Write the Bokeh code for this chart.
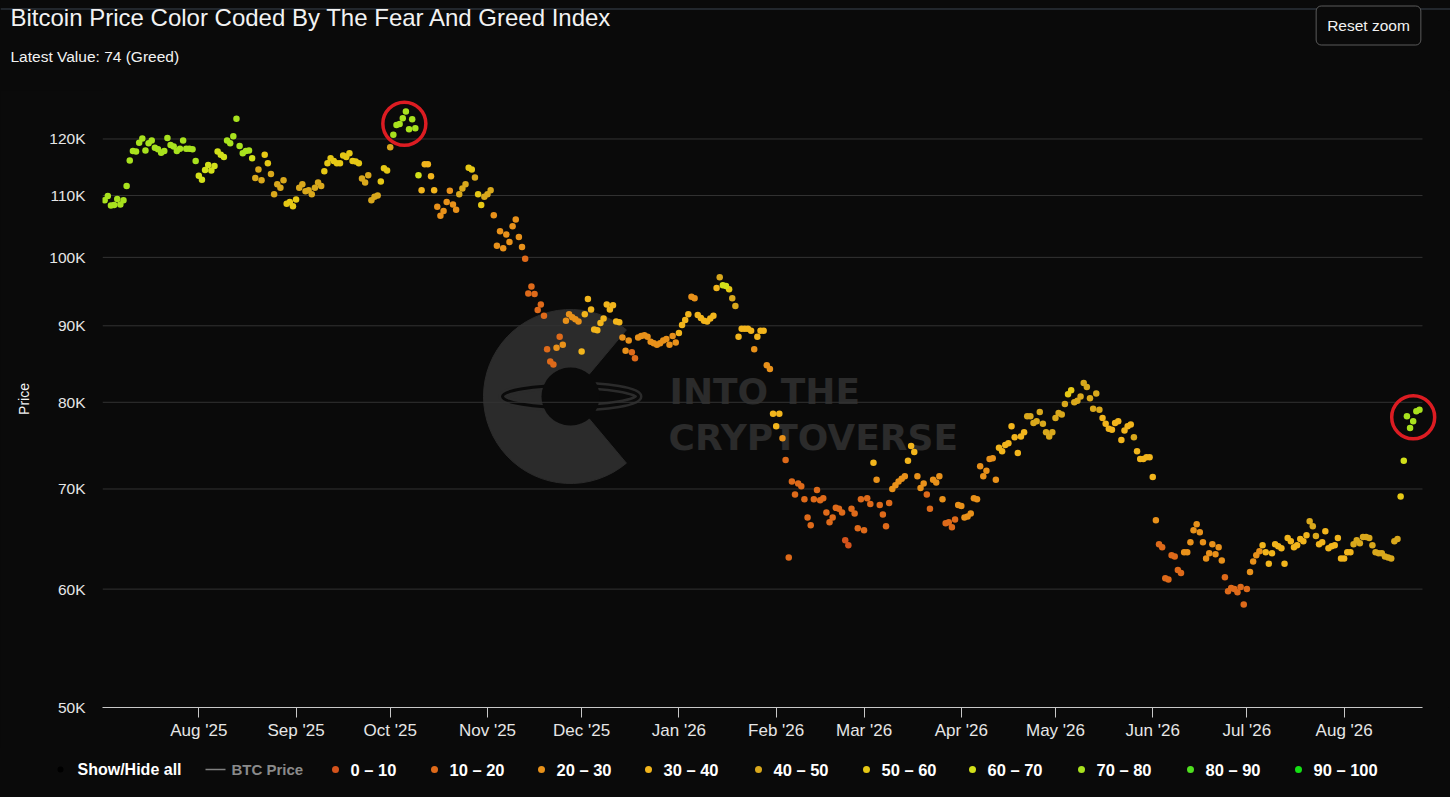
import math
import numpy as np
import pandas as pd
from bokeh.plotting import figure
from bokeh.layouts import column
from bokeh.models import ColumnDataSource, FixedTicker, Range1d, Label
from bokeh.embed import file_html
from bokeh.resources import INLINE

# ---------------------------------------------------------------- data
TITLE = "Bitcoin Price Color Coded By The Fear And Greed Index"
SUBTITLE = "Latest Value: 74 (Greed)"
START_DATE = "2025-07-02"   # one point per day

PRICE_K = [
    109.2, 109.9, 108.3, 108.4, 109.4, 108.5, 109.2, 111.6, 116.1, 117.8,
    117.7, 119.3, 120.1, 117.9, 119.2, 119.7, 118.4, 118.1, 117.5, 117.8,
    120.2, 118.9, 118.6, 117.8, 118.2, 119.7, 118.2, 118.2, 118.1, 116.0,
    113.4, 112.7, 114.4, 115.3, 114.3, 115.1, 117.7, 117.1, 116.7, 119.7,
    119.2, 120.5, 123.8, 118.7, 117.4, 117.8, 117.9, 116.5, 113.0, 114.5,
    112.6, 117.1, 115.6, 113.7, 110.2, 111.9, 111.3, 112.6, 108.6, 108.9,
    108.2, 109.3, 111.3, 111.9, 110.7, 110.9, 110.2, 111.3, 112.2, 111.6,
    114.2, 115.6, 116.5, 116.0, 115.6, 115.6, 117.0, 116.7, 117.4, 116.0,
    115.9, 115.6, 112.9, 112.2, 113.5, 109.2, 109.8, 110.0, 112.4, 114.7,
    114.3, 118.5, 120.8, 122.6, 122.8, 123.9, 125.2, 121.8, 123.7, 122.0,
    113.5, 110.9, 115.4, 115.4, 113.3, 110.9, 108.1, 106.6, 107.4, 108.9,
    110.8, 108.5, 107.6, 110.2, 111.2, 111.9, 114.8, 114.5, 113.1, 110.2,
    108.4, 109.8, 110.2, 110.9, 106.7, 101.8, 104.1, 101.4, 103.6, 102.4,
    104.9, 106.0, 103.2, 101.6, 99.8,
    94.6, 95.6, 94.5, 92.2, 93.0, 91.4, 86.8, 85.2, 84.8, 87.0,
    88.5, 87.4, 90.7, 91.6, 91.2, 90.9, 90.6, 86.5, 91.6, 93.8,
    92.3, 89.5, 89.4, 90.4, 91.0, 93.0, 92.3, 92.9, 90.6, 90.5,
    88.4, 86.6, 88.0,
    86.4, 85.6, 88.4, 88.6, 88.7, 88.5, 87.8, 87.6, 87.4, 87.6,
    88.0, 88.2, 87.4, 88.6, 87.7, 89.0, 90.1, 90.8, 91.6, 94.1,
    93.9, 91.5, 91.1, 90.7, 90.6, 91.0, 91.4, 95.4, 97.0, 95.8,
    95.7, 95.2, 93.9, 92.8, 88.5, 89.6, 89.6, 89.6, 89.3, 86.8,
    88.5, 89.3, 89.3, 84.7, 84.2,
    78.6, 77.1, 78.6, 75.7, 73.2, 63.0, 70.8, 69.4, 70.6, 70.3,
    68.9, 67.0, 66.2, 68.9, 69.9, 68.8, 69.0, 67.5, 66.5, 67.0,
    68.0, 67.9, 67.5, 64.7, 64.2, 67.9, 67.4, 65.9, 68.9, 65.7,
    69.0, 68.4, 72.9, 71.0, 68.3, 67.3, 66.1, 68.5, 70.0, 70.4,
    70.8, 71.1, 71.4, 73.1, 74.8, 74.1, 71.4, 70.1, 70.6, 69.4,
    67.9, 71.0, 70.7, 71.4, 68.9, 66.4, 66.5, 66.0, 66.8, 68.3,
    68.2, 67.0, 67.1, 67.4, 69.0, 68.9, 72.5, 71.4, 72.0, 73.3,
    73.4, 71.0, 74.6, 74.2, 74.9, 75.1,
    77.1, 75.8, 74.0, 75.9, 76.4, 78.3, 78.3, 77.5, 77.7, 78.8,
    77.4, 76.4, 75.9, 76.4, 78.1, 78.7, 78.5, 79.8, 81.0, 81.5,
    80.0, 80.2, 80.7, 82.4, 81.9, 80.5, 79.2, 81.1, 79.1, 78.1,
    77.4, 76.8, 76.7, 77.5, 77.7, 75.5, 76.6, 77.1, 77.3, 75.8,
    74.2, 73.3, 73.3, 73.5, 73.5, 71.3,
    66.7, 64.3, 64.0, 61.0, 60.9, 63.2, 63.1, 61.8, 61.5, 63.5,
    63.5, 64.5, 65.7, 66.3, 65.5, 64.5, 62.9, 63.4, 64.3, 63.3,
    64.0, 62.7, 61.1, 59.8, 60.1, 60.0, 59.7, 60.2, 58.6, 60.0,
    61.6, 62.6, 63.2, 63.6, 64.2, 63.5, 62.4, 63.4, 64.3, 64.1,
    63.9, 62.4, 64.9, 64.6, 64.0, 64.2, 64.8, 64.6, 65.2, 66.6,
    66.1, 65.1, 64.3, 64.5, 65.6, 63.9, 64.1, 64.2, 64.9, 62.9,
    62.9, 63.5, 63.5, 64.3, 64.7, 64.4, 65.0, 65.0, 64.9, 64.2,
    63.5, 63.4, 63.4, 63.1, 63.0, 62.9, 64.6, 64.8, 69.2, 73.1,
    78.3, 76.9, 77.7, 78.9, 79.1,
]

FEAR_GREED = [
    72, 72, 72, 72, 72, 72, 72, 72, 71, 71,
    71, 71, 71, 71, 71, 71, 71, 71, 71, 71,
    71, 71, 71, 71, 71, 71, 71, 71, 71, 71,
    64, 64, 64, 64, 64, 64, 68, 68, 68, 72,
    72, 72, 72, 72, 72, 72, 72, 65, 45, 45,
    45, 55, 55, 48, 42, 48, 48, 48, 52, 52,
    52, 55, 45, 45, 45, 45, 45, 45, 45, 45,
    55, 55, 55, 55, 55, 55, 55, 55, 55, 55,
    55, 55, 45, 45, 45, 42, 42, 42, 52, 52,
    52, 45, 72, 72, 72, 72, 72, 72, 72, 72,
    62, 35, 35, 35, 35, 35, 28, 28, 28, 28,
    28, 28, 28, 42, 42, 42, 50, 50, 42, 58,
    52, 45, 45, 45, 25, 25, 25, 25, 25, 25,
    25, 25, 25, 25, 15, 15, 15, 15, 15, 15,
    15, 15, 15, 15, 22, 18, 25, 25, 25, 25,
    25, 25, 35, 35, 35, 35, 35, 35, 35, 35,
    32, 32, 32, 32, 32, 25, 25, 25, 18, 18,
    26, 26, 26, 26, 26, 26, 26, 26, 26, 26,
    26, 26, 26, 32, 32, 32, 32, 28, 28, 34,
    34, 34, 34, 34, 34, 30, 45, 62, 62, 55,
    45, 45, 35, 35, 35, 35, 35, 28, 32, 32,
    32, 25, 25, 33, 33, 33, 25, 15, 15, 15,
    15, 15, 15, 15, 15, 15, 15, 15, 15, 15,
    15, 15, 15, 15, 15, 15, 8, 8, 15, 15,
    15, 15, 15, 15, 15, 33, 28, 15, 15, 15,
    15, 24, 24, 24, 24, 24, 32, 32, 32, 24,
    24, 24, 18, 18, 22, 22, 22, 22, 15, 15,
    15, 15, 23, 23, 23, 23, 23, 23, 23, 28,
    28, 28, 28, 28, 28, 33, 33, 33, 33, 35,
    35, 35, 35, 35, 45, 45, 45, 45, 45, 42,
    42, 42, 42, 45, 45, 45, 45, 55, 55, 48,
    48, 48, 48, 48, 45, 45, 45, 45, 35, 35,
    35, 35, 36, 36, 36, 36, 36, 36, 42, 32,
    32, 32, 32, 32, 35, 25, 15, 15, 15, 15,
    15, 15, 15, 15, 24, 24, 24, 28, 28, 28,
    28, 24, 24, 24, 24, 24, 24, 15, 15, 15,
    15, 15, 15, 15, 15, 25, 25, 25, 25, 33,
    33, 33, 33, 33, 33, 33, 33, 36, 36, 36,
    36, 36, 36, 36, 45, 45, 45, 36, 36, 36,
    36, 36, 36, 36, 33, 33, 33, 33, 40, 40,
    40, 40, 40, 40, 45, 45, 45, 45, 45, 45,
    45, 44, 44, 55, 65, 74, 74, 74, 74, 74,
]

BIN_LABELS = ["0 – 10", "10 – 20", "20 – 30", "30 – 40", "40 – 50",
              "50 – 60", "60 – 70", "70 – 80", "80 – 90", "90 – 100"]
BIN_COLORS = ["#d4531c", "#de6a1a", "#e8911a", "#f2b51c", "#d9a81c",
              "#e6c815", "#d2e01a", "#a8e21e", "#4fe01f", "#14e014"]

Y_TICKS_K = [50, 60, 70, 80, 90, 100, 110, 120]
X_TICK_MONTHS = ["2025-08-01", "2025-09-01", "2025-10-01", "2025-11-01", "2025-12-01",
                 "2026-01-01", "2026-02-01", "2026-03-01", "2026-04-01", "2026-05-01",
                 "2026-06-01", "2026-07-01", "2026-08-01"]
X_TICK_LABELS = ["Aug '25", "Sep '25", "Oct '25", "Nov '25", "Dec '25", "Jan '26", "Feb '26",
                 "Mar '26", "Apr '26", "May '26", "Jun '26", "Jul '26", "Aug '26"]

HIGHLIGHTS = [("2025-10-02", "2025-10-09"), ("2026-08-21", "2026-08-25")]

assert len(PRICE_K) == len(FEAR_GREED)

# ---------------------------------------------------------------- styling / layout
BG = "#0a0a0a"
WM = "#2b2b2b"
FONT = "Liberation Sans"
W = 1450
TOP_H = 90
FRAME_LEFT, FRAME_W, FRAME_H = 102, 1346, 617
MAIN_BOTTOM = 40
LEG_H = 48

dates = pd.date_range(START_DATE, periods=len(PRICE_K), freq="D")
prices = np.array(PRICE_K) * 1000.0
fg = np.array(FEAR_GREED)
bins = np.minimum(fg // 10, 9)

ref = pd.Timestamp("2025-08-01")
x_start = ref - pd.Timedelta(days=30.69)      # left edge of plot area
plot_end = ref + pd.Timedelta(days=389.96)    # right edge of plot area (axis / grid end)
x_end = ref + pd.Timedelta(days=398.25)       # right edge of drawing frame
y_lo, y_hi = 50000.0, 129300.0


def bare_fig(h):
    f = figure(width=W, height=h, x_range=Range1d(0, W), y_range=Range1d(h, 0),
               x_axis_location=None, y_axis_location=None,
               output_backend="svg", toolbar_location=None,
               background_fill_color=BG, border_fill_color=BG,
               min_border=0, min_border_left=0, min_border_right=0,
               min_border_top=0, min_border_bottom=0)
    f.grid.visible = False
    f.outline_line_color = None
    f.frame_align = False
    return f


# ---------------------------------------------------------------- header
top = bare_fig(TOP_H)
top.segment(x0=[0], y0=[8.5], x1=[W], y1=[8.5], line_color="#3a4450", line_width=1)
top.add_layout(Label(x=10, y=17, text=TITLE, text_font=FONT, text_font_size="24px",
                     text_color="#f2f2f2", text_baseline="middle"))
top.add_layout(Label(x=10, y=56, text=SUBTITLE, text_font=FONT, text_font_size="15.5px",
                     text_color="#f2f2f2", text_baseline="middle"))
top.add_layout(Label(x=1368, y=25, text="Reset zoom", text_align="center",
                     text_baseline="middle", text_font=FONT, text_font_size="15.5px",
                     text_color="#f2f2f2", background_fill_color=BG,
                     border_line_color="#5a5a5a", border_line_width=1,
                     padding=11, border_radius=5))

# ---------------------------------------------------------------- main chart
p = figure(x_axis_type="datetime", y_axis_type="log",
           frame_width=FRAME_W, frame_height=FRAME_H,
           x_range=Range1d(x_start, x_end), y_range=Range1d(y_lo, y_hi),
           output_backend="svg", toolbar_location=None,
           background_fill_color=BG, border_fill_color=BG,
           min_border_left=FRAME_LEFT, min_border_right=W - FRAME_LEFT - FRAME_W,
           min_border_top=0, min_border_bottom=MAIN_BOTTOM)
p.outline_line_color = None
p.grid.visible = False
p.frame_align = False


def page_to_data(px, py):
    fx = (px - FRAME_LEFT) / FRAME_W
    fy = (TOP_H + FRAME_H - py) / FRAME_H
    xd = x_start + (x_end - x_start) * fx
    yd = math.exp(math.log(y_lo) + fy * (math.log(y_hi) - math.log(y_lo)))
    return xd, yd


# watermark
wx, wy = page_to_data(570, 396)
p.annular_wedge(x=[wx], y=[wy], inner_radius=29, outer_radius=87,
                inner_radius_units="screen", outer_radius_units="screen",
                start_angle=math.radians(50), end_angle=math.radians(310),
                color=WM, level="image")
p.ellipse(x=[wx], y=[wy], width=136, height=22, width_units="screen", height_units="screen",
          fill_color=None, line_color=WM, line_width=8, level="image")
p.ellipse(x=[wx], y=[wy], width=136, height=22, width_units="screen", height_units="screen",
          fill_color=None, line_color=BG, line_width=3, level="image")
p.circle(x=[wx], y=[wy], radius=29, radius_units="screen", fill_color=BG, line_color=None,
         level="image")
for txt, bx, by in [("INTO THE", 669, 391), ("CRYPTOVERSE", 668, 437)]:
    lx, ly = page_to_data(bx, by)
    p.add_layout(Label(x=lx, y=ly, text=txt,
                       text_font="DejaVu Sans", text_font_style="bold", text_font_size="36px",
                       text_color=WM, text_baseline="alphabetic", level="image"))

# horizontal grid lines over the plot area only
yt = [v * 1000 for v in Y_TICKS_K]
p.segment(x0=[x_start] * len(yt), x1=[plot_end] * len(yt), y0=yt, y1=yt,
          line_color="#333333", line_width=1, level="underlay")

p.yaxis.ticker = FixedTicker(ticks=yt)
p.yaxis.major_label_overrides = {t: f"{v}K" for t, v in zip(yt, Y_TICKS_K)}
p.yaxis.axis_line_color = None
p.yaxis.major_tick_line_color = None
p.yaxis.major_tick_out = 0
p.yaxis.major_tick_in = 0
p.yaxis.minor_tick_line_color = None
p.yaxis.minor_tick_out = 0
p.yaxis.major_label_standoff = 17
p.yaxis.major_label_text_color = "#e6e6e6"
p.yaxis.major_label_text_font = FONT
p.yaxis.major_label_text_font_size = "15.5px"
p.yaxis.axis_label = "Price"
p.yaxis.axis_label_standoff = 14
p.yaxis.axis_label_text_font = FONT
p.yaxis.axis_label_text_font_style = "normal"
p.yaxis.axis_label_text_font_size = "14px"
p.yaxis.axis_label_text_color = "#f2f2f2"

xt = [pd.Timestamp(s).value // 10**6 for s in X_TICK_MONTHS]
p.xaxis.ticker = FixedTicker(ticks=xt)
p.xaxis.major_label_overrides = {t: lab for t, lab in zip(xt, X_TICK_LABELS)}
p.xaxis.bounds = (x_start, plot_end)
p.xaxis.axis_line_color = "#c8c8c8"
p.xaxis.major_tick_line_color = "#c8c8c8"
p.xaxis.major_tick_out = 10
p.xaxis.major_tick_in = 0
p.xaxis.minor_tick_line_color = None
p.xaxis.major_label_standoff = 3
p.xaxis.major_label_text_color = "#e6e6e6"
p.xaxis.major_label_text_font = FONT
p.xaxis.major_label_text_font_size = "17px"

for i in range(10):
    m = bins == i
    src = ColumnDataSource(dict(x=dates[m], y=prices[m]))
    p.scatter("x", "y", source=src, size=6.5, fill_color=BIN_COLORS[i], line_color=None)

# highlight circles centred on the highlighted points
hx, hy = [], []
for a, b in HIGHLIGHTS:
    m = (dates >= pd.Timestamp(a)) & (dates <= pd.Timestamp(b))
    hx.append(dates[m].mean())
    hy.append(float(np.exp(np.log(prices[m]).mean())))
p.circle(x=hx, y=hy, radius=21.5, radius_units="screen", fill_color=None,
         line_color="#dc1c22", line_width=3.5)

# ---------------------------------------------------------------- legend row
leg = bare_fig(LEG_H)
LY = 22
LEG_DOT_X = [335, 434, 541, 648, 758, 866, 972, 1081, 1190, 1298]
leg.scatter(x=[60], y=[LY], size=6, fill_color="#000000", line_color=None)
leg.add_layout(Label(x=77, y=LY, text="Show/Hide all", text_font=FONT, text_font_size="16px",
                     text_font_style="bold", text_color="#ffffff", text_baseline="middle"))
leg.segment(x0=[205], y0=[LY], x1=[225], y1=[LY], line_color="#808080", line_width=1.5)
leg.add_layout(Label(x=231, y=LY, text="BTC Price", text_font=FONT, text_font_size="15px",
                     text_font_style="bold", text_color="#8a8a8a", text_baseline="middle"))
leg.scatter(x=LEG_DOT_X, y=[LY] * len(LEG_DOT_X), size=7, fill_color=BIN_COLORS,
            line_color=None)
for dx, lab in zip(LEG_DOT_X, BIN_LABELS):
    leg.add_layout(Label(x=dx + 15, y=LY, text=lab, text_font=FONT, text_font_size="16.5px",
                         text_font_style="bold", text_color="#ffffff", text_baseline="middle"))

layout = column(top, p, leg, spacing=0)

html = file_html(layout, INLINE, title="Bitcoin Fear and Greed")
html = html.replace("<head>", "<head><style>html, body {background-color: #0a0a0a;}</style>", 1)
open("out.html", "w").write(html)
